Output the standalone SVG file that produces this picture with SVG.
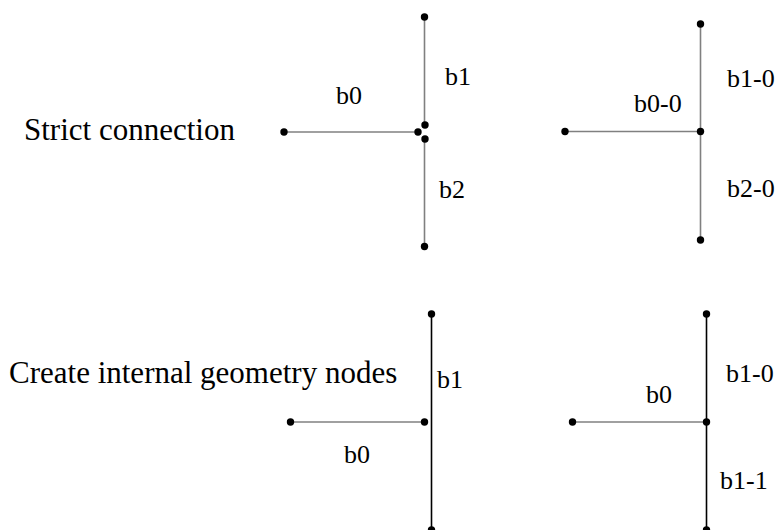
<svg xmlns="http://www.w3.org/2000/svg" width="779" height="530" viewBox="0 0 779 530">
<style>
.t{font-family:"Liberation Serif","Times New Roman",serif;fill:#000}
.title{font-size:31px}
.lbl{font-size:26px}
.g{stroke:#808080;stroke-width:1.6;fill:none}
.k{stroke:#000;stroke-width:1.6;fill:none}
.d{fill:#000}
</style>
<rect width="779" height="530" fill="#fff"/>
<text class="t title" x="24" y="139.5">Strict connection</text>
<text class="t title" x="9" y="383">Create internal geometry nodes</text>
<g id="connectors">
<line class="g" x1="284" y1="132" x2="418" y2="132"/>
<line class="g" x1="424.5" y1="17" x2="424.5" y2="125"/>
<line class="g" x1="424.5" y1="139" x2="424.5" y2="246.5"/>
<line class="g" x1="565" y1="131.5" x2="700.5" y2="131.5"/>
<line class="g" x1="700.5" y1="24" x2="700.5" y2="131.5"/>
<line class="g" x1="700.5" y1="131.5" x2="700.5" y2="240"/>
<line class="g" x1="290.5" y1="422" x2="424.5" y2="422"/>
<line class="k" x1="431.5" y1="314" x2="431.5" y2="530"/>
<line class="g" x1="572.5" y1="422" x2="706.5" y2="422"/>
<line class="k" x1="706.5" y1="314" x2="706.5" y2="530"/>
</g>
<g id="n1"><circle class="d" cx="284" cy="132" r="3.7"/></g>
<g id="n2"><circle class="d" cx="418" cy="132" r="3.7"/></g>
<g id="n3"><circle class="d" cx="424.5" cy="17" r="3.7"/></g>
<g id="n4"><circle class="d" cx="425" cy="125" r="3.7"/></g>
<g id="n5"><circle class="d" cx="425" cy="139" r="3.7"/></g>
<g id="n6"><circle class="d" cx="424.5" cy="246.5" r="3.7"/></g>
<g id="n7"><circle class="d" cx="565" cy="131.5" r="3.7"/></g>
<g id="n8"><circle class="d" cx="700.5" cy="131.5" r="3.7"/></g>
<g id="n9"><circle class="d" cx="700.5" cy="24" r="3.7"/></g>
<g id="n10"><circle class="d" cx="700.5" cy="240" r="3.7"/></g>
<g id="n11"><circle class="d" cx="290.5" cy="422" r="3.7"/></g>
<g id="n12"><circle class="d" cx="424.5" cy="422" r="3.7"/></g>
<g id="n13"><circle class="d" cx="431.5" cy="314" r="3.7"/></g>
<g id="n14"><circle class="d" cx="431.5" cy="530" r="3.7"/></g>
<g id="n15"><circle class="d" cx="572.5" cy="422" r="3.7"/></g>
<g id="n16"><circle class="d" cx="706.5" cy="422" r="3.7"/></g>
<g id="n17"><circle class="d" cx="706.5" cy="314" r="3.7"/></g>
<g id="n18"><circle class="d" cx="706.5" cy="530" r="3.7"/></g>
<g id="labels">
<text class="t lbl" x="336" y="104">b0</text>
<text class="t lbl" x="445" y="85">b1</text>
<text class="t lbl" x="439" y="198">b2</text>
<text class="t lbl" x="634" y="112">b0-0</text>
<text class="t lbl" x="727" y="87">b1-0</text>
<text class="t lbl" x="727" y="197">b2-0</text>
<text class="t lbl" x="437" y="388">b1</text>
<text class="t lbl" x="344" y="463">b0</text>
<text class="t lbl" x="726" y="382">b1-0</text>
<text class="t lbl" x="646" y="403">b0</text>
<text class="t lbl" x="720" y="489">b1-1</text>
</g>
</svg>
